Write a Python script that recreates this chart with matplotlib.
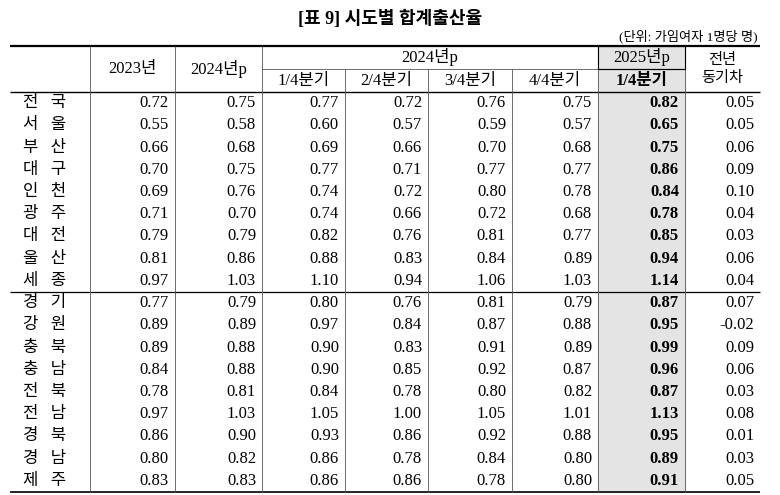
import matplotlib
matplotlib.use("Agg")
import matplotlib.pyplot as plt

regions = ["전   국","서   울","부   산","대   구","인   천","광   주","대   전","울   산","세   종",
           "경   기","강   원","충   북","충   남","전   북","전   남","경   북","경   남","제   주"]
v2023 = [0.72,0.55,0.66,0.70,0.69,0.71,0.79,0.81,0.97,0.77,0.89,0.89,0.84,0.78,0.97,0.86,0.80,0.83]
v2024 = [0.75,0.58,0.68,0.75,0.76,0.70,0.79,0.86,1.03,0.79,0.89,0.88,0.88,0.81,1.03,0.90,0.82,0.83]
q1 = [0.77,0.60,0.69,0.77,0.74,0.74,0.82,0.88,1.10,0.80,0.97,0.90,0.90,0.84,1.05,0.93,0.86,0.86]
q2 = [0.72,0.57,0.66,0.71,0.72,0.66,0.76,0.83,0.94,0.76,0.84,0.83,0.85,0.78,1.00,0.86,0.78,0.86]
q3 = [0.76,0.59,0.70,0.77,0.80,0.72,0.81,0.84,1.06,0.81,0.87,0.91,0.92,0.80,1.05,0.92,0.84,0.78]
q4 = [0.75,0.57,0.68,0.77,0.78,0.68,0.77,0.89,1.03,0.79,0.88,0.89,0.87,0.82,1.01,0.88,0.80,0.80]
q2025 = [0.82,0.65,0.75,0.86,0.84,0.78,0.85,0.94,1.14,0.87,0.95,0.99,0.96,0.87,1.13,0.95,0.89,0.91]
diff = [0.05,0.05,0.06,0.09,0.10,0.04,0.03,0.06,0.04,0.07,-0.02,0.09,0.06,0.03,0.08,0.01,0.03,0.05]

FAM = ["Liberation Serif", "Noto Sans CJK KR"]
fig = plt.figure(figsize=(7.8, 4.95), dpi=100)
ax = fig.add_axes([0, 0, 1, 1])
ax.set_xlim(0, 780); ax.set_ylim(495, 0); ax.axis("off")

xs = [10, 90, 175, 262, 345, 428, 512, 598, 685, 760]
ytop, ymid, yhb = 46, 69, 92
rh = (492 - yhb) / 18
ybot = yhb + rh * 18

ax.add_patch(plt.Rectangle((xs[7], ytop), xs[8]-xs[7], ybot-ytop, color="#e4e4e4", zorder=0))

ax.text(390, 19, "[표 9] 시도별 합계출산율", ha="center", va="center", fontsize=13,
        fontweight="bold", family=FAM)
ax.text(758, 36, "(단위: 가임여자 1명당 명)", ha="right", va="center", fontsize=9.5, family=FAM)

lc = "#555555"
ax.hlines(ytop, xs[0], xs[-1], color="black", lw=1.6)
ax.hlines(ymid, xs[3], xs[7], color=lc, lw=0.6)
ax.hlines(ymid, xs[7], xs[8], color="black", lw=0.8)
ax.hlines(yhb, xs[0], xs[-1], color="black", lw=1.0)
ax.hlines(yhb + rh*9, xs[0], xs[-1], color="black", lw=0.9)
ax.hlines(ybot, xs[0], xs[-1], color="black", lw=1.2)
for i in range(1, len(xs)-1):
    top = ymid if i in (4, 5, 6) else ytop
    ax.vlines(xs[i], top, ybot, color=lc, lw=0.6)
ax.plot([xs[7], xs[7], xs[8], xs[8], xs[7]], [ytop, ymid, ymid, ytop, ytop], color="black", lw=0.8)

fs = 12
hy = (ytop + yhb) / 2
ax.text((xs[1]+xs[2])/2, hy, "2023년", ha="center", va="center", fontsize=fs, family=FAM)
ax.text((xs[2]+xs[3])/2, hy, "2024년p", ha="center", va="center", fontsize=fs, family=FAM)
ax.text((xs[3]+xs[7])/2, (ytop+ymid)/2, "2024년p", ha="center", va="center", fontsize=fs, family=FAM)
ax.text((xs[7]+xs[8])/2, (ytop+ymid)/2, "2025년p", ha="center", va="center", fontsize=fs, family=FAM)
for i, q in enumerate(["1/4분기", "2/4분기", "3/4분기", "4/4분기"]):
    ax.text((xs[3+i]+xs[4+i])/2, (ymid+yhb)/2, q, ha="center", va="center", fontsize=fs, family=FAM)
ax.text((xs[7]+xs[8])/2, (ymid+yhb)/2, "1/4분기", ha="center", va="center", fontsize=fs,
        fontweight="bold", family=FAM)
ax.text((xs[8]+xs[9])/2, hy - 9, "전년", ha="center", va="center", fontsize=fs-1, family=FAM)
ax.text((xs[8]+xs[9])/2, hy + 9, "동기차", ha="center", va="center", fontsize=fs-1, family=FAM)

cols = [v2023, v2024, q1, q2, q3, q4, q2025, diff]
for r in range(18):
    y = yhb + rh*(r+0.5)
    ax.text((xs[0]+xs[1])/2 - 5, y, regions[r], ha="center", va="center", fontsize=fs, family=FAM)
    for c, col in enumerate(cols):
        ax.text(xs[c+2] - 6, y, f"{col[r]:.2f}", ha="right", va="center", fontsize=fs,
                family=FAM, fontweight="bold" if c == 6 else "normal")

fig.savefig("out.png", dpi=100)
